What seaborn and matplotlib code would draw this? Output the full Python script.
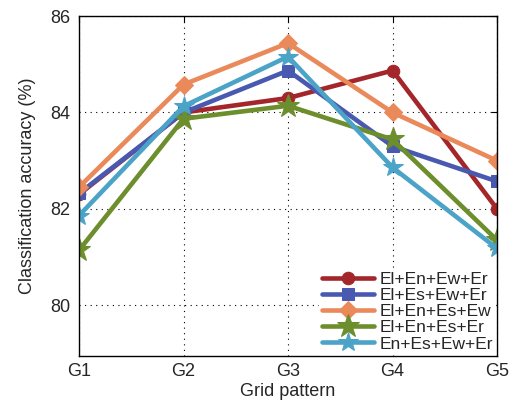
import numpy as np
import seaborn as sns
import matplotlib.pyplot as plt

# data
patterns = ['G1', 'G2', 'G3', 'G4', 'G5']
el_en_ew_er = [82.30, 84.00, 84.30, 84.87, 82.00]
el_es_ew_er = [82.32, 84.00, 84.87, 83.30, 82.57]
el_en_es_ew = [82.45, 84.58, 85.44, 84.00, 83.00]
el_en_es_er = [81.14, 83.87, 84.14, 83.44, 81.35]
en_es_ew_er = [81.86, 84.13, 85.16, 82.86, 81.18]

series = [
    ('El+En+Ew+Er', el_en_ew_er, '#A3262A', 'o', 9),
    ('El+Es+Ew+Er', el_es_ew_er, '#4A59B0', 's', 8),
    ('El+En+Es+Ew', el_en_es_ew, '#EA8A5A', 'D', 9),
    ('El+En+Es+Er', el_en_es_er, '#6C8E2C', '*', 17),
    ('En+Es+Ew+Er', en_es_ew_er, '#4BA4C8', '*', 15),
]

sns.set_style('white')
plt.rcParams['font.family'] = ['Liberation Sans', 'DejaVu Sans']

fig = plt.figure(figsize=(5.18, 4.03), dpi=100)
ax = fig.add_axes([0.1525, 0.117, 0.807, 0.843])

x = np.arange(len(patterns))
for name, vals, col, mk, ms in series:
    sns.lineplot(x=x, y=vals, ax=ax, color=col, marker=mk, markersize=ms,
                 linewidth=3.3, markeredgecolor=col, label=name)

ax.set_xlim(0, 4)
ax.set_ylim(78.95, 86)
ax.set_xticks(x)
ax.set_xticklabels(patterns)
ax.set_yticks([80, 82, 84, 86])
ax.tick_params(labelsize=13, direction='in', top=True, right=True, length=4, color='black')
ax.tick_params(axis='y', pad=6.5)
ax.tick_params(axis='x', pad=5)
ax.grid(True, linestyle=(0, (1, 4)), color='black', linewidth=0.8)
for s in ax.spines.values():
    s.set_color('black')
    s.set_linewidth(1.0)

ax.set_xlabel('Grid pattern', fontsize=13, labelpad=2)
ax.set_ylabel('Classification accuracy (%)', fontsize=13, labelpad=10)

leg = ax.legend(loc='lower right', fontsize=12.5, frameon=True, fancybox=False,
                edgecolor='white', framealpha=1, handlelength=3.0,
                labelspacing=0.05, borderpad=0.15, handletextpad=0.3,
                borderaxespad=0.1)

fig.savefig('out.png', dpi=100)
